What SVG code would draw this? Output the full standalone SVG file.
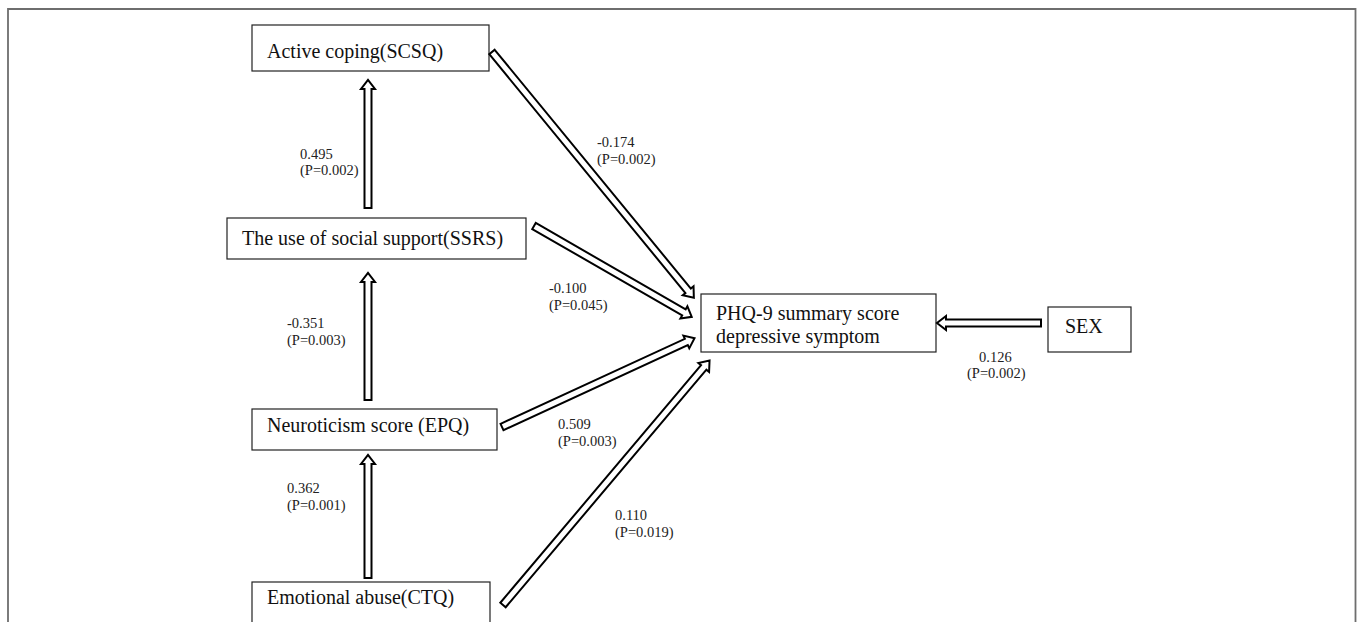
<svg xmlns="http://www.w3.org/2000/svg" width="1357" height="622" viewBox="0 0 1357 622">
<style>
.box{fill:#fff;stroke:#222;stroke-width:1.2}
.t{font-family:"Liberation Serif","Times New Roman",serif;font-size:20px;fill:#111}
.l{font-family:"Liberation Serif","Times New Roman",serif;font-size:14.5px;fill:#222}
.arr{fill:#fff;stroke:#000;stroke-width:2;stroke-linejoin:miter}
</style>
<rect x="0" y="0" width="1357" height="622" fill="#fff"/>
<path d="M8,622 V9 H1355.5 V622" fill="none" stroke="#6e6e6e" stroke-width="1.8"/>
<g id="n-active"><rect class="box" x="252" y="25" width="237" height="46"/><text class="t" x="267" y="58">Active coping(SCSQ)</text></g>
<g id="n-social"><rect class="box" x="227" y="218" width="299" height="41"/><text class="t" x="242" y="245">The use of social support(SSRS)</text></g>
<g id="n-neuro"><rect class="box" x="252" y="409" width="245" height="41"/><text class="t" x="267" y="432">Neuroticism score (EPQ)</text></g>
<g id="n-emo"><rect class="box" x="252" y="582" width="238" height="50"/><text class="t" x="267" y="604">Emotional abuse(CTQ)</text></g>
<g id="n-phq"><rect class="box" x="701" y="294" width="235" height="58"/><text class="t" x="716" y="320">PHQ-9 summary score</text><text class="t" x="716" y="343">depressive symptom</text></g>
<g id="n-sex"><rect class="box" x="1048" y="307" width="83" height="45"/><text class="t" x="1065" y="333">SEX</text></g>
<g id="connectors">
<polygon class="arr" transform="translate(368,208) rotate(-90)" points="0,-3.5 119,-3.5 119,-7 128,0 119,7 119,3.5 0,3.5"/>
<polygon class="arr" transform="translate(368,400) rotate(-90)" points="0,-3.5 118,-3.5 118,-7 127,0 118,7 118,3.5 0,3.5"/>
<polygon class="arr" transform="translate(368,578) rotate(-90)" points="0,-3.5 114,-3.5 114,-7 123,0 114,7 114,3.5 0,3.5"/>
<polygon class="arr" transform="translate(492,52) rotate(50.6)" points="0,-3.5 309,-3.5 309,-7 318,0 309,7 309,3.5 0,3.5"/>
<polygon class="arr" transform="translate(534,226) rotate(29.94)" points="0,-3.5 173,-3.5 173,-7 182,0 173,7 173,3.5 0,3.5"/>
<polygon class="arr" transform="translate(502,427) rotate(-24.76)" points="0,-3.5 203,-3.5 203,-7 212,0 203,7 203,3.5 0,3.5"/>
<polygon class="arr" transform="translate(503,605) rotate(-49.8)" points="0,-3.5 311,-3.5 311,-7 320,0 311,7 311,3.5 0,3.5"/>
<polygon class="arr" transform="translate(1041,323) rotate(180)" points="0,-3.5 95,-3.5 95,-7 104,0 95,7 95,3.5 0,3.5"/>
<text class="l" x="300" y="159">0.495</text><text class="l" x="300" y="175">(P=0.002)</text>
<text class="l" x="287" y="328">-0.351</text><text class="l" x="287" y="345">(P=0.003)</text>
<text class="l" x="287" y="493">0.362</text><text class="l" x="287" y="510">(P=0.001)</text>
<text class="l" x="597" y="147">-0.174</text><text class="l" x="597" y="164">(P=0.002)</text>
<text class="l" x="549" y="293">-0.100</text><text class="l" x="549" y="310">(P=0.045)</text>
<text class="l" x="558" y="429">0.509</text><text class="l" x="558" y="446">(P=0.003)</text>
<text class="l" x="615" y="520">0.110</text><text class="l" x="615" y="537">(P=0.019)</text>
<text class="l" x="979" y="362">0.126</text><text class="l" x="967" y="378">(P=0.002)</text>
</g>
</svg>
